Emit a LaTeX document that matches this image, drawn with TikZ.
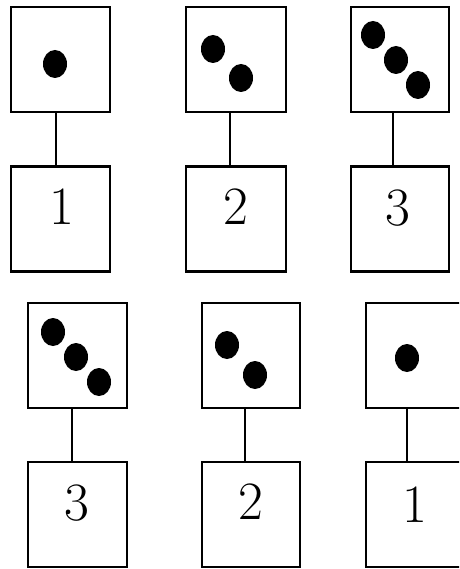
\documentclass[tikz,border=0pt]{standalone}
\begin{document}
\begin{tikzpicture}[x=1pt,y=-1pt,
  card/.style={draw, line width=2.4pt, rectangle, inner sep=0pt, minimum width=99pt, minimum height=105pt},
  digit/.style={inner sep=0pt, font=\fontsize{54}{58}\selectfont},
  pip/.style={fill=black},
  link/.style={line width=2pt}]
\useasboundingbox (0,0) rectangle (459,569);
\clip (0,0) rectangle (459,569);
% top row
\node[card] (ta) at (60.5,59.5) {};
\node[card] (tna) at (60.5,219) {};
\node[card, minimum width=100pt] (tb) at (236,59.5) {};
\node[card, minimum width=100pt] (tnb) at (236,219) {};
\node[card, minimum width=98pt] (tc) at (400,59.5) {};
\node[card, minimum width=98pt] (tnc) at (400,219) {};
% bottom row
\node[card] (ba) at (77.5,355.5) {};
\node[card] (bna) at (77.5,514.5) {};
\node[card, minimum width=98pt] (bb) at (251,355.5) {};
\node[card, minimum width=98pt] (bnb) at (251,514.5) {};
\node[card] (bc) at (415.5,355.5) {};
\node[card] (bnc) at (415.5,514.5) {};
% connectors
\draw[link] ([xshift=-4.5pt]ta.south) -- ([xshift=-4.5pt]tna.north);
\draw[link] ([xshift=-6pt]tb.south) -- ([xshift=-6pt]tnb.north);
\draw[link] ([xshift=-7pt]tc.south) -- ([xshift=-7pt]tnc.north);
\draw[link] ([xshift=-5.5pt]ba.south) -- ([xshift=-5.5pt]bna.north);
\draw[link] ([xshift=-6pt]bb.south) -- ([xshift=-6pt]bnb.north);
\draw[link] ([xshift=-8.5pt]bc.south) -- ([xshift=-8.5pt]bnc.north);
% pips
\fill[pip] (55,64) ellipse [x radius=12, y radius=14];
\fill[pip] (213,49) ellipse [x radius=12, y radius=14];
\fill[pip] (241,78) ellipse [x radius=12, y radius=14];
\fill[pip] (373,35) ellipse [x radius=12, y radius=14];
\fill[pip] (396,60) ellipse [x radius=12, y radius=14];
\fill[pip] (418,85) ellipse [x radius=12, y radius=14];
\fill[pip] (53,332) ellipse [x radius=12, y radius=14];
\fill[pip] (76,357) ellipse [x radius=12, y radius=14];
\fill[pip] (99,382) ellipse [x radius=12, y radius=14];
\fill[pip] (227,345) ellipse [x radius=12, y radius=14];
\fill[pip] (255,375) ellipse [x radius=12, y radius=14];
\fill[pip] (407,358) ellipse [x radius=12, y radius=14];
% digits
\node[digit] (d1) at (62,207) {1};
\node[digit] (d2) at (236,207) {2};
\node[digit] (d3) at (398,208) {3};
\node[digit] (d4) at (77,503) {3};
\node[digit] (d5) at (251,502) {2};
\node[digit] (d6) at (415,505) {1};
\end{tikzpicture}
\end{document}
